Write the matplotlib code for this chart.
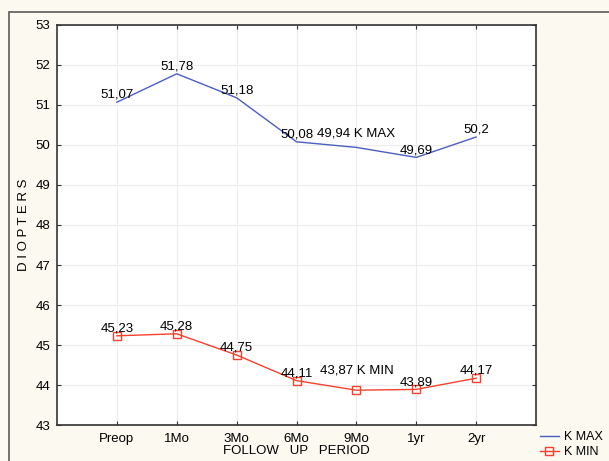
import matplotlib
matplotlib.use("Agg")
from matplotlib import pyplot as plt
from matplotlib.patches import Rectangle

periods = ["Preop", "1Mo", "3Mo", "6Mo", "9Mo", "1yr", "2yr"]
k_max = [51.07, 51.78, 51.18, 50.08, 49.94, 49.69, 50.2]
k_min = [45.23, 45.28, 44.75, 44.11, 43.87, 43.89, 44.17]

plt.rcParams["font.family"] = ["Liberation Sans", "DejaVu Sans"]
plt.rcParams["font.size"] = 9.5

blue = "#4a5fc1"
red = "#f5412e"

fig = plt.figure(figsize=(6.09, 4.61), dpi=100, facecolor="#fcf9f0")
ax = fig.add_axes([57 / 609, 1 - 425 / 461, (536 - 57) / 609, (425 - 25) / 461])
ax.set_facecolor("white")

x = list(range(len(periods)))
ax.plot(x, k_max, color=blue, lw=1.0, label="K MAX")
ax.plot(x, k_min, color=red, lw=1.0, marker="s", ms=6, mfc="none",
        mec=red, mew=1.0, label="K MIN")


def fmt(v):
    return ("%g" % v).replace(".", ",")


for i, v in enumerate(k_max):
    txt = fmt(v)
    dy = 1
    if i == 4:
        txt += " K MAX"
        dy = 6
    ax.annotate(txt, (i, v), xytext=(0, dy), textcoords="offset points",
                ha="center", va="bottom")

for i, v in enumerate(k_min):
    txt = fmt(v)
    dy = 1
    if i == 4:
        txt += " K MIN"
        dy = 10
    ax.annotate(txt, (i, v), xytext=(0, dy), textcoords="offset points",
                ha="center", va="bottom")

ax.set_xlim(-1, 7)
ax.set_ylim(43, 53)
ax.set_xticks(x)
ax.set_xticklabels(periods)
ax.set_yticks(range(43, 54))
ax.tick_params(direction="in", length=3, top=True, right=True, color="#333333")
ax.tick_params(axis="x", pad=6)
ax.tick_params(axis="y", pad=5)
ax.grid(True, color="#ececec", lw=0.8)
ax.set_axisbelow(True)
for s in ax.spines.values():
    s.set_color("#333333")
    s.set_linewidth(1.2)

ax.set_xlabel("FOLLOW   UP   PERIOD", labelpad=0)
ax.set_ylabel("D I O P T E R S", labelpad=4)

ax.legend(loc="lower left", bbox_to_anchor=(540 / 609, 3 / 461),
          bbox_transform=fig.transFigure, frameon=False, fontsize=9,
          handlelength=1.5, handletextpad=0.45, labelspacing=0.25,
          borderpad=0, borderaxespad=0)

fig.add_artist(Rectangle((9 / 609, -0.1), 1.2, 1 - 12 / 461 + 0.1,
                         transform=fig.transFigure, fill=False,
                         edgecolor="#666666", lw=1.3))

fig.savefig("out.png", dpi=100, facecolor=fig.get_facecolor())
